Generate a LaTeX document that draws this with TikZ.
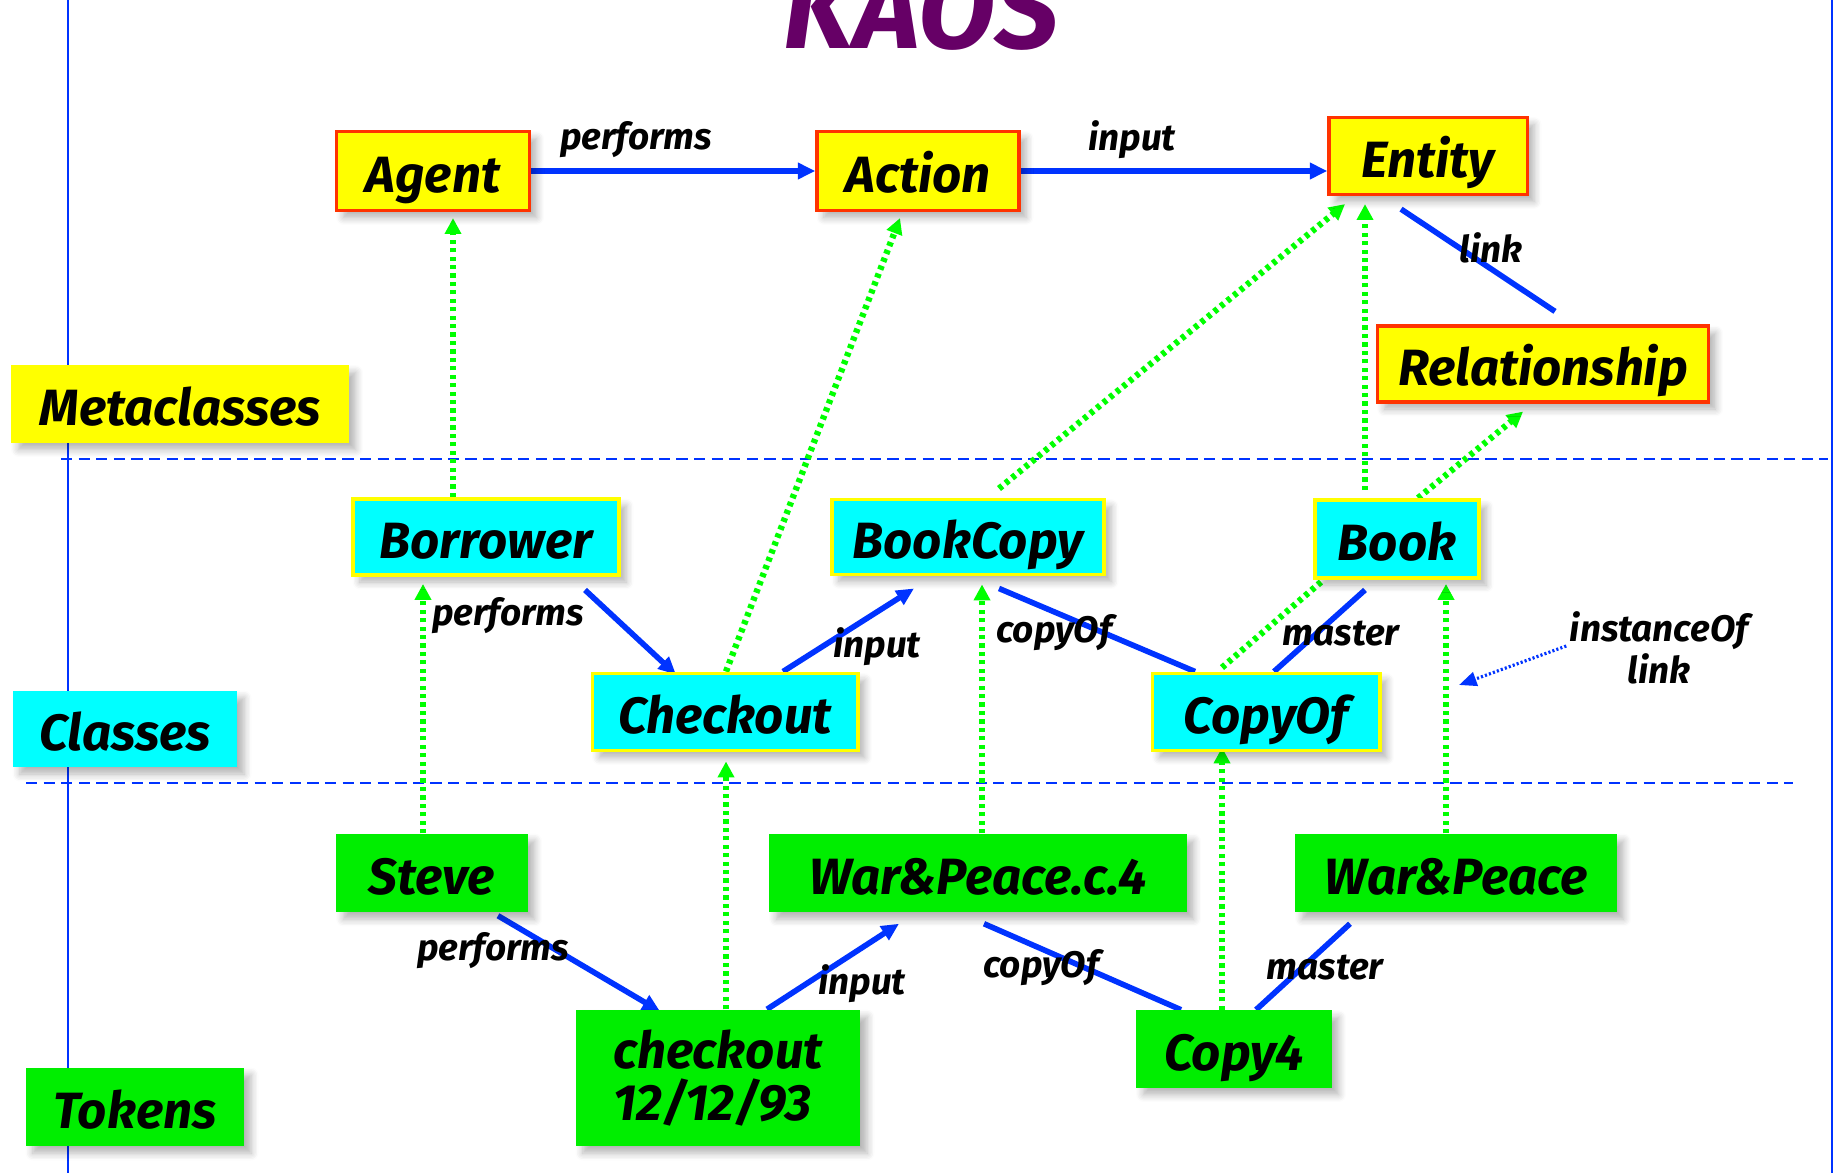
\documentclass[tikz,border=0pt]{standalone}
\usepackage{fontspec}
\setmainfont{Fira Sans}
\usetikzlibrary{calc,arrows.meta,shadows.blur}

\definecolor{metayellow}{RGB}{255,255,0}
\definecolor{metared}{RGB}{255,51,0}
\definecolor{clscyan}{RGB}{0,255,255}
\definecolor{tokgreen}{RGB}{0,238,0}
\definecolor{linkblue}{RGB}{0,51,255}
\definecolor{instgreen}{RGB}{0,255,0}
\definecolor{titlepurple}{RGB}{102,0,102}

\pgfdeclarelayer{bg}
\pgfsetlayers{bg,main}

\tikzset{
  boxfont/.style={font=\fontsize{14.5}{14.8}\selectfont\bfseries\itshape, text=black, inner sep=0pt},
  boxtext/.style={boxfont, text height=13.5pt, text depth=1pt},
  lbl/.style={font=\fontsize{10.5}{10.2}\selectfont\bfseries\itshape, text=black, inner sep=0pt},
  shade/.style={blur shadow={shadow xshift=2pt, shadow yshift=-2pt, shadow blur steps=6, shadow opacity=30}},
  metabox/.style={boxtext, shade, fill=metayellow, draw=metared, line width=0.9pt},
  clsbox/.style={boxtext, shade, fill=clscyan, draw=metayellow, line width=1.1pt},
  tokbox/.style={boxtext, shade, fill=tokgreen},
  layerbox/.style={boxtext, shade},
  rel/.style={draw=linkblue, line width=1.6pt},
  relarrow/.style={rel, -{Triangle[length=5pt,width=4.5pt]}},
  inst/.style={draw=instgreen, line width=1.8pt, dash pattern=on 1.2pt off 1.2pt,
               -{Triangle[length=4.5pt,width=4.5pt]}},
  instplain/.style={draw=instgreen, line width=1.8pt, dash pattern=on 1.2pt off 1.2pt},
  sep/.style={draw=linkblue, line width=0.8pt, dash pattern=on 3.2pt off 1.8pt},
  frame/.style={draw=linkblue, line width=0.7pt},
  pointer/.style={draw=linkblue, line width=0.9pt, dash pattern=on 0.6pt off 0.6pt,
                  -{Triangle[length=5pt,width=4pt]}},
}

\begin{document}
\begin{tikzpicture}[x=0.01cm, y=-0.01cm]
\useasboundingbox (0,0) rectangle (1837,1173);

% title
\node[anchor=base, font=\fontsize{32}{32}\selectfont\bfseries\itshape, text=titlepurple] (title) at (921,49) {KAOS};

% metaclass level
\node[metabox, minimum width=1.93cm, minimum height=0.79cm] (agent)  at (433,171) {Agent};
\node[metabox, minimum width=2.02cm, minimum height=0.79cm] (action) at (918,171) {Action};
\node[metabox, minimum width=1.98cm, minimum height=0.77cm] (entity) at (1428,156) {Entity};
\node[metabox, minimum width=3.31cm, minimum height=0.76cm] (relationship) at (1543,364) {Relationship};
\node[layerbox, fill=metayellow, minimum width=3.37cm, minimum height=0.77cm] (metaclasses) at (180,404) {Metaclasses};

% class level
\node[clsbox, minimum width=2.66cm, minimum height=0.76cm] (borrower) at (486,537) {Borrower};
\node[clsbox, minimum width=2.72cm, minimum height=0.75cm] (bookcopy) at (968,537) {BookCopy};
\node[clsbox, minimum width=1.64cm, minimum height=0.78cm] (book)     at (1397,539) {Book};
\node[clsbox, minimum width=2.65cm, minimum height=0.77cm] (checkout) at (725,712) {Checkout};
\node[clsbox, minimum width=2.27cm, minimum height=0.77cm] (copyof)   at (1266,712) {CopyOf};
\node[layerbox, fill=clscyan, minimum width=2.24cm, minimum height=0.76cm] (classes) at (125,729) {Classes};

% token level
\node[tokbox, minimum width=1.91cm, minimum height=0.78cm] (steve) at (432,873) {Steve};
\node[tokbox, minimum width=4.17cm, minimum height=0.78cm] (wpc4)  at (978,873) {War\&Peace.c.4};
\node[boxfont, shade, fill=tokgreen, minimum width=2.84cm, minimum height=1.36cm, align=left] (chk) at (718,1078) {checkout\\12/12/93};
\node[tokbox, minimum width=3.21cm, minimum height=0.78cm] (wp)    at (1456,873) {War\&Peace};
\node[tokbox, minimum width=1.95cm, minimum height=0.77cm] (copy4) at (1234,1049) {Copy4};
\node[layerbox, fill=tokgreen, minimum width=2.18cm, minimum height=0.78cm] (tokens) at (135,1107) {Tokens};

% connector labels
\node[lbl] (l-perf1) at (636,140) {performs};
\node[lbl] (l-inp1)  at (1132,140) {input};
\node[lbl] (l-link)  at (1491,248) {link};
\node[lbl] (l-perf2) at (508,616) {performs};
\node[lbl] (l-inp2)  at (877,647) {input};
\node[lbl] (l-cp2)   at (1054,633) {copyOf};
\node[lbl] (l-ms2)   at (1341,634) {master};
\node[lbl] (l-perf3) at (493,951) {performs};
\node[lbl] (l-inp3)  at (862,984) {input};
\node[lbl] (l-cp3)   at (1041,968) {copyOf};
\node[lbl] (l-ms3)   at (1325,968) {master};
\node[lbl, align=center] (note) at (1659,648) {instanceOf\\link};
\coordinate (ptr) at (1459,685);

\begin{pgfonlayer}{bg}
  % frame and level separators
  \draw[frame] (68,0) -- (68,1173);
  \draw[frame] (1832,0) -- (1832,1173);
  \draw[sep] (61,459) -- (1828,459);
  \draw[sep] (26,783) -- (1793,783);

  % metaclass relations
  \draw[relarrow] (agent.east) -- (action.west);
  \draw[relarrow] (action.east) -- (action.east -| entity.west);
  \draw[rel] ($(entity.south)+(-27,13)$) -- ($(relationship.north)+(12,-13)$);

  % class relations
  \draw[relarrow] ($(borrower.south)+(99,13)$) -- ($(checkout.north)+(-49,3)$);
  \draw[relarrow] ($(checkout.north)+(58,0)$) -- ($(bookcopy.south)+(-54,12)$);
  \draw[rel] ($(bookcopy.south)+(31,12)$) -- ($(copyof.north)+(-71,0)$);
  \draw[rel] ($(book.south)+(-32,10)$) -- ($(copyof.north)+(8,0)$);

  % token relations
  \draw[relarrow] ($(steve.south)+(66,3)$) -- ($(chk.north)+(-58,2)$);
  \draw[relarrow] ($(chk.north)+(49,0)$) -- ($(wpc4.south)+(-79,11)$);
  \draw[rel] ($(wpc4.south)+(6,11)$) -- ($(copy4.north)+(-53,0)$);
  \draw[rel] ($(wp.south)+(-106,11)$) -- ($(copy4.north)+(22,0)$);

  % instance-of links
  \draw[inst] ($(borrower.north)+(-33,0)$) -- ($(agent.south)+(20,6)$);
  \draw[inst] ($(checkout.north)+(1,0)$) -- ($(action.south)+(-18,6)$);
  \draw[inst] ($(bookcopy.north)+(31,-9)$) -- ($(entity.south)+(-83,8)$);
  \draw[inst] ($(book.north)+(-32,-8)$) -- ($(entity.south)+(-63,8)$);
  \draw[inst] ($(book.north)+(21,0)$) -- ($(relationship.south)+(-20,8)$);
  \draw[instplain] ($(copyof.north)+(-44,-4)$) -- ($(book.south)+(-76,2)$);
  \draw[inst] ($(steve.north)+(-9,0)$) -- ($(borrower.south)+(-63,7)$);
  \draw[inst] ($(chk.north)+(8,0)$) -- ($(checkout.south)+(1,9)$);
  \draw[inst] ($(wpc4.north)+(4,0)$) -- ($(bookcopy.south)+(14,8)$);
  \draw[inst] ($(copy4.north)+(-12,0)$) -- ($(copyof.south)+(-44,-5)$);
  \draw[inst] ($(wp.north)+(-10,0)$) -- ($(book.south)+(49,4)$);
\end{pgfonlayer}

% legend pointer
\draw[pointer] ($(note.west)+(-3,-2)$) -- (ptr);

\end{tikzpicture}
\end{document}
